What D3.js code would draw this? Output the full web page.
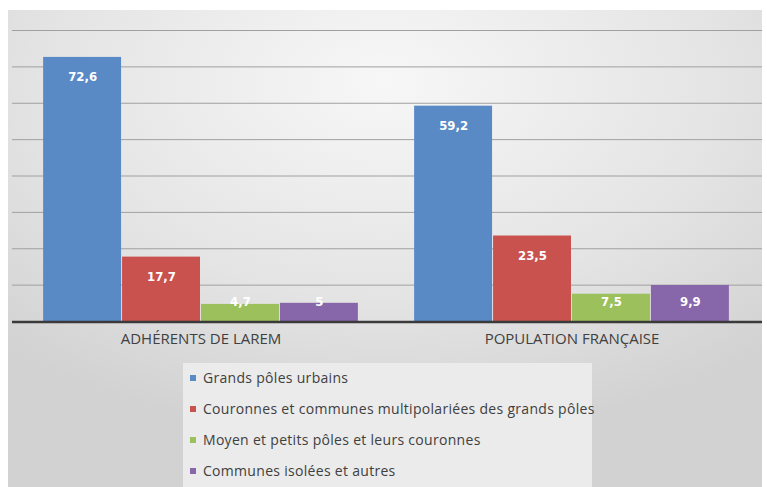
<!DOCTYPE html>
<html>
<head>
<meta charset="utf-8">
<script src="https://cdn.jsdelivr.net/npm/d3@7"></script>
<style>
  body { margin: 0; background: #fff; }
  svg { display: block; }
</style>
</head>
<body>
<div id="chart"></div>
<script>
// categories and series
var categories = ["ADHÉRENTS DE LAREM", "POPULATION FRANÇAISE"];
var series = [
  "Grands pôles urbains",
  "Couronnes et communes multipolariées des grands pôles",
  "Moyen et petits pôles et leurs couronnes",
  "Communes isolées et autres"
];
var adherents = [72.6, 17.7, 4.7, 5];
var population = [59.2, 23.5, 7.5, 9.9];
var colors = ["#5a8ac6", "#c9524f", "#9cc05c", "#8766aa"];
var yTicks = [0, 10, 20, 30, 40, 50, 60, 70, 80];

var svgWidth = 767, svgHeight = 487;

var plot = { left: 12, right: 762, top: 30, bottom: 321 };

var svg = d3.select("#chart")
  .append("svg")
  .attr("width", svgWidth)
  .attr("height", svgHeight);

// background gradient
var defs = svg.append("defs");
var grad = defs.append("radialGradient")
  .attr("id", "bg")
  .attr("cx", "50%").attr("cy", "15%")
  .attr("r", "75%");
grad.append("stop").attr("offset", "0%").attr("stop-color", "#f7f7f7");
grad.append("stop").attr("offset", "60%").attr("stop-color", "#e4e4e4");
grad.append("stop").attr("offset", "100%").attr("stop-color", "#d2d2d2");

svg.append("rect")
  .attr("x", 8).attr("y", 10)
  .attr("width", 754).attr("height", 477)
  .attr("fill", "url(#bg)");

var table = categories.map(function(c, i) {
  var vals = i === 0 ? adherents : population;
  return { cat: c, values: series.map(function(s, j) { return { s: s, v: vals[j], c: colors[j] }; }) };
});

var x0 = d3.scaleBand()
  .domain(categories)
  .range([15.5, 757.5]);

var x1 = d3.scaleBand()
  .domain(series)
  .range([0, x0.bandwidth()])
  .paddingOuter(0.35);

var y = d3.scaleLinear()
  .domain([0, 80])
  .range([plot.bottom, plot.top]);

// gridlines
var grid = svg.append("g")
  .attr("transform", "translate(" + plot.left + ",0)")
  .call(d3.axisLeft(y).tickValues(yTicks).tickSize(-(plot.right - plot.left)).tickFormat(""));
grid.select(".domain").remove();
grid.selectAll(".tick line").attr("stroke", "#a0a0a0").attr("stroke-width", 1);

// bars
var groups = svg.selectAll(".grp")
  .data(table)
  .enter()
  .append("g")
  .attr("class", "grp")
  .attr("transform", function(d) { return "translate(" + x0(d.cat) + ",0)"; });

groups.selectAll("rect")
  .data(function(d) { return d.values; })
  .enter()
  .append("rect")
  .attr("x", function(d) { return x1(d.s); })
  .attr("y", function(d) { return y(d.v); })
  .attr("width", x1.bandwidth() - 1)
  .attr("height", function(d) { return y(0) - y(d.v); })
  .attr("fill", function(d) { return d.c; });

groups.selectAll(".lbl")
  .data(function(d) { return d.values; })
  .enter()
  .append("text")
  .attr("class", "lbl")
  .attr("x", function(d) { return x1(d.s) + x1.bandwidth() / 2; })
  .attr("y", function(d) { return Math.min(y(d.v) + 20, y(0) - 20); })
  .attr("dy", "0.35em")
  .attr("text-anchor", "middle")
  .attr("fill", "#fff")
  .style("font-family", "'DejaVu Sans Condensed', 'Liberation Sans Narrow', sans-serif")
  .style("font-weight", "bold")
  .style("font-size", "13px")
  .text(function(d) { return String(d.v).replace(".", ","); });

// baseline
svg.append("line")
  .attr("x1", plot.left).attr("x2", plot.right)
  .attr("y1", y(0) + 1).attr("y2", y(0) + 1)
  .attr("stroke", "#3a3a3a")
  .attr("stroke-width", 2.5);

// category labels
var xAxis = svg.append("g")
  .attr("transform", "translate(0," + (y(0) + 1) + ")")
  .call(d3.axisBottom(x0).tickSize(0).tickPadding(11));
xAxis.select(".domain").remove();
xAxis.selectAll("text")
  .attr("fill", "#404040")
  .style("font-family", "'Open Sans', sans-serif")
  .style("font-size", "15px");

// legend
svg.append("rect")
  .attr("x", 183).attr("y", 363)
  .attr("width", 409).attr("height", 124)
  .attr("fill", "#ebebeb");

var legend = svg.selectAll(".leg")
  .data(series)
  .enter()
  .append("g")
  .attr("class", "leg")
  .attr("transform", function(d, i) { return "translate(190," + (378 + i * 31) + ")"; });

legend.append("rect")
  .attr("x", 0).attr("y", -3)
  .attr("width", 6).attr("height", 6)
  .attr("fill", function(d, i) { return colors[i]; });

legend.append("text")
  .attr("x", 13)
  .attr("dy", "0.35em")
  .attr("fill", "#404040")
  .style("font-family", "'Open Sans', sans-serif")
  .style("font-size", "14px")
  .style("letter-spacing", "0.3px")
  .text(function(d) { return d; });
</script>
</body>
</html>
